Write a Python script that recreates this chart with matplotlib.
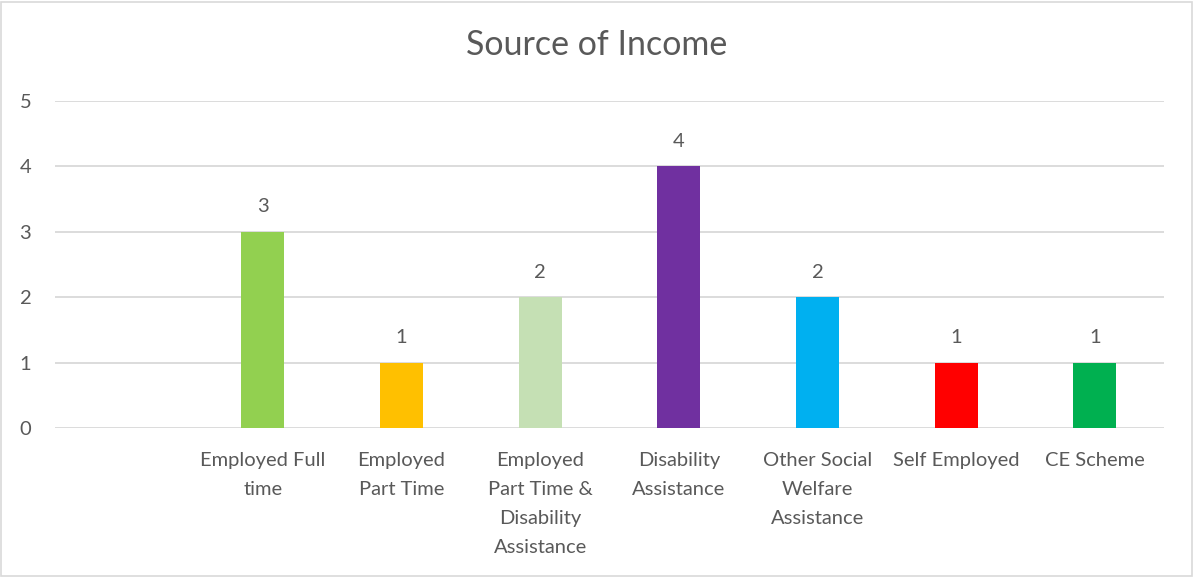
import matplotlib.pyplot as plt
from matplotlib.patches import Rectangle

# categories (first slot is empty in the original chart)
categories = ['', 'Employed Full\ntime', 'Employed\nPart Time', 'Employed\nPart Time &\nDisability\nAssistance',
              'Disability\nAssistance', 'Other Social\nWelfare\nAssistance', 'Self Employed', 'CE Scheme']
counts = [0, 3, 1, 2, 4, 2, 1, 1]
colors = ['none', '#92D050', '#FFC000', '#C5E0B4', '#7030A0', '#00B0F0', '#FF0000', '#00B050']

plt.rcParams['font.family'] = ['Lato', 'DejaVu Sans']
text_col = '#595959'
grid_col = '#D9D9D9'
fs = 14.5

fig = plt.figure(figsize=(11.94, 5.77), dpi=100)
ax = fig.add_axes([0.046, 0.258, 0.929, 0.567])

x = list(range(len(categories)))
ax.bar(x, counts, width=0.31, color=colors, zorder=3)

# data labels (skip the empty slot)
for xi, v in zip(x, counts):
    if categories[xi] == '':
        continue
    ax.annotate(str(v), (xi, v), xytext=(0, 12), textcoords='offset points',
                ha='center', va='bottom', fontsize=fs, color=text_col)

ax.set_xlim(-0.5, len(categories) - 0.5)
ax.set_ylim(0, 5)
ax.set_yticks(range(0, 6))
ax.set_xticks(x)
ax.set_xticklabels(categories, fontsize=fs, color=text_col, linespacing=1.87, va='top')
ax.tick_params(axis='y', labelsize=fs, labelcolor=text_col, length=0, pad=17)
ax.tick_params(axis='x', length=0, pad=17)

ax.grid(axis='y', color=grid_col, lw=1.3, zorder=0)
for s in ax.spines.values():
    s.set_visible(False)

fig.text(0.5, 0.922, 'Source of Income', ha='center', va='center', fontsize=24.5, color=text_col)

# chart border
fig.patches.append(Rectangle((0.001, 0.002), 0.997, 0.995, transform=fig.transFigure,
                             fill=False, edgecolor=grid_col, lw=1.2))

fig.savefig('out.png', dpi=100)
